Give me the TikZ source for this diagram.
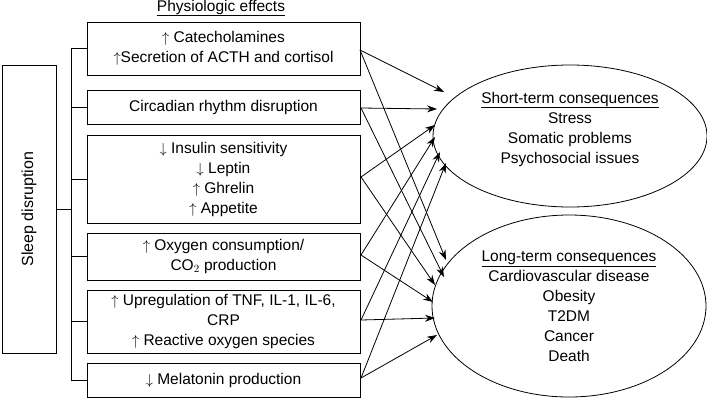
\documentclass[tikz,border=0pt]{standalone}
\usepackage{fontspec}
\setmainfont{Liberation Sans}
\usetikzlibrary{arrows.meta,positioning,shapes.geometric}

\begin{document}
\begin{tikzpicture}[x=1pt,y=-1pt,
    effect/.style={draw,thick,minimum width=273pt,align=center,inner sep=0pt,font=\fontsize{15.5}{20}\selectfont},
    conseq/.style={draw,thick,ellipse,minimum width=274pt},
    label/.style={align=center,font=\fontsize{15.5}{20}\selectfont},
    link/.style={thick,-{Stealth[length=10pt,width=7pt]}}]
    \useasboundingbox (0,0) rectangle (707,400);

    % left box and bracket
    \node[draw,thick,minimum width=54pt,minimum height=288pt,inner sep=0pt] (sleep) at (29,209) {};
    \node[rotate=90,font=\fontsize{16}{16}\selectfont] at (sleep.center) {Sleep disruption};
    \coordinate (top) at (71,49);
    \coordinate (bot) at (71,380);
    \draw[thick] (top) -- (bot);
    \draw[thick] (sleep.east) -- (71,209);

    \node[label] (title) at (221,8) {\underline{Physiologic effects}};

    % effect boxes
    \node[effect,minimum height=53pt] (b1) at (223.5,48.5) {$\uparrow$ Catecholamines\\$\uparrow$Secretion of ACTH and cortisol};
    \node[effect,minimum height=34pt] (b2) at (223.5,107) {Circadian rhythm disruption};
    \node[effect,minimum height=88pt] (b3) at (223.5,179) {$\downarrow$ Insulin sensitivity\\$\downarrow$ Leptin\\$\uparrow$ Ghrelin\\$\uparrow$ Appetite};
    \node[effect,minimum height=47pt] (b4) at (223.5,256.5) {$\uparrow$ Oxygen consumption/\\CO$_2$ production};
    \node[effect,minimum height=63pt] (b5) at (223.5,321.5) {$\uparrow$ Upregulation of TNF, IL-1, IL-6,\\CRP\\$\uparrow$ Reactive oxygen species};
    \node[effect,minimum height=34pt] (b6) at (223.5,380) {$\downarrow$ Melatonin production};

    \foreach \b in {b1,b2,b3,b4,b5,b6}
        \draw[thick] (71,0 |- \b.west) -- (\b.west);

    % consequences
    \node[conseq,minimum height=142pt] (st) at (570,136) {};
    \node[label] at (570,129) {\underline{Short-term consequences}\\Stress\\Somatic problems\\Psychosocial issues};
    \node[conseq,minimum height=182pt] (lt) at (569,306) {};
    \node[label] at (569,306) {\underline{Long-term consequences}\\Cardiovascular disease\\Obesity\\T2DM\\Cancer\\Death};

    % arrow ends
    \coordinate (s1) at (444,92);  \coordinate (l1) at (446,260);
    \coordinate (s2) at (437,109); \coordinate (l2) at (444,277);
    \coordinate (s3) at (435,125); \coordinate (l3) at (435,285);
    \coordinate (s4) at (435,137); \coordinate (l4) at (433,302);
    \coordinate (s5) at (440,152); \coordinate (l5) at (435,318);
    \coordinate (s6) at (446,163); \coordinate (l6) at (437,335);

    \draw[link] (360,50) -- (s1);  \draw[link] (360,50) -- (l1);
    \draw[link] (361,108) -- (s2); \draw[link] (361,108) -- (l2);
    \draw[link] (361,177) -- (s3); \draw[link] (361,177) -- (l3);
    \draw[link] (361,255) -- (s4); \draw[link] (361,255) -- (l4);
    \draw[link] (361,320) -- (s5); \draw[link] (361,320) -- (l5);
    \draw[link] (361,378) -- (s6); \draw[link] (361,378) -- (l6);
\end{tikzpicture}
\end{document}
